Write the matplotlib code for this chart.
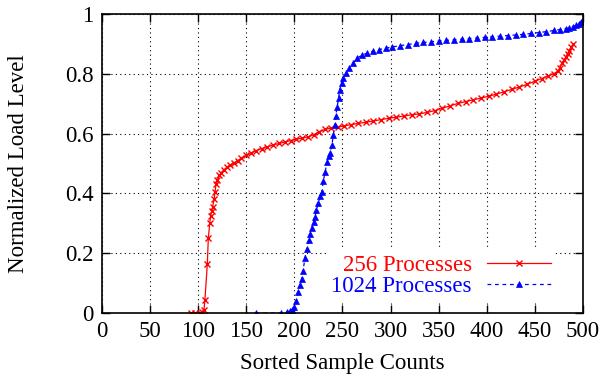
import matplotlib.pyplot as plt

plt.rcParams['font.family'] = ['Liberation Serif', 'DejaVu Serif']

# 256 processes (red, x markers)
x256 = [92, 97, 102, 104, 106, 107, 109.5, 110.5, 112, 113, 114, 115, 116.5, 117.5,
        118.5, 120, 122, 124, 127, 130, 133, 137, 141, 145, 150, 155, 160, 166, 172,
        178, 184, 190, 196, 202, 208, 214, 220, 226, 232, 238, 245, 252, 259, 266,
        274, 282, 290, 298, 306, 314, 322, 330, 338, 346, 354, 362, 370, 378, 386,
        394, 402, 410, 418, 426, 434, 442, 450, 457, 464, 470, 474, 476, 478, 480,
        482, 484, 486, 488, 490]
y256 = [0.0, 0.0, 0.0, 0.005, 0.01, 0.045, 0.165, 0.25, 0.30, 0.325, 0.34, 0.355, 0.38,
        0.405, 0.43, 0.445, 0.46, 0.47, 0.48, 0.488, 0.495, 0.502, 0.51, 0.518, 0.527,
        0.535, 0.543, 0.55, 0.556, 0.562, 0.567, 0.572, 0.577, 0.581, 0.585, 0.589,
        0.596, 0.607, 0.614, 0.619, 0.622, 0.626, 0.63, 0.634, 0.638, 0.642, 0.647,
        0.651, 0.655, 0.659, 0.663, 0.666, 0.671, 0.677, 0.685, 0.693, 0.701, 0.707,
        0.713, 0.719, 0.725, 0.732, 0.74, 0.748, 0.756, 0.765, 0.775, 0.784, 0.793,
        0.801, 0.809, 0.82, 0.835, 0.845, 0.855, 0.866, 0.876, 0.89, 0.899]

# 1024 processes (blue, triangles)
x1024 = [160, 186, 192, 195, 198, 200, 202, 204, 206, 207.5, 209, 211, 213, 215, 216.5,
         218, 220, 221.5, 223, 225, 227, 228.5, 230, 232, 234, 236, 237, 239, 240.5,
         242, 243, 244.5, 246, 247, 249, 251, 254, 257, 261, 265, 270, 276, 282, 288,
         295, 302, 310, 318, 326, 334, 342, 350, 358, 366, 374, 382, 390, 398, 406,
         414, 422, 430, 438, 446, 454, 462, 470, 476, 482, 486, 490, 493, 496, 498, 500]
y1024 = [0.0, 0.0, 0.003, 0.006, 0.01, 0.02, 0.04, 0.07, 0.095, 0.115, 0.14, 0.185,
         0.215, 0.245, 0.265, 0.285, 0.305, 0.322, 0.345, 0.367, 0.39, 0.405, 0.44,
         0.473, 0.505, 0.525, 0.535, 0.562, 0.595, 0.63, 0.66, 0.69, 0.72, 0.745, 0.77,
         0.785, 0.803, 0.818, 0.835, 0.852, 0.862, 0.87, 0.876, 0.881, 0.886, 0.89,
         0.894, 0.898, 0.902, 0.905, 0.907, 0.91, 0.912, 0.914, 0.916, 0.918, 0.92,
         0.922, 0.924, 0.926, 0.928, 0.93, 0.932, 0.935, 0.938, 0.941, 0.945, 0.948,
         0.951, 0.954, 0.958, 0.962, 0.968, 0.974, 0.978]

xticks = list(range(0, 501, 50))
yticks = [0, 0.2, 0.4, 0.6, 0.8, 1]
ytick_labels = ['0', '0.2', '0.4', '0.6', '0.8', '1']

fig = plt.figure(figsize=(6.11, 3.74), dpi=100)
ax = fig.add_axes([0.167, 0.163, 0.787, 0.7995])

ax.plot(x256, y256, color='red', lw=0.9, marker='x', ms=5, mew=1.0,
        label='256 Processes')
ax.plot(x1024, y1024, color='blue', lw=0.9, ls=(0, (3, 3)), marker='^', ms=5,
        mew=0.5, label='1024 Processes')

ax.set_xlim(0, 500)
ax.set_ylim(0, 1)
ax.set_xticks(xticks)
ax.set_yticks(yticks)
ax.set_yticklabels(ytick_labels)
ax.grid(True, color='black', ls=(0, (1, 3)), lw=0.8)
ax.set_axisbelow(True)
ax.tick_params(direction='in', length=6, width=1, top=True, right=True,
               labelsize=16.5, pad=6)
for s in ax.spines.values():
    s.set_linewidth(1.2)

ax.set_xlabel('Sorted Sample Counts', fontsize=16.5, labelpad=8)
ax.set_ylabel('Normalized Load Level', fontsize=16.5, labelpad=26)

leg = ax.legend(loc='center right', bbox_to_anchor=(0.943, 0.124), markerfirst=False,
                fontsize=16.5, frameon=True, fancybox=False, edgecolor='none',
                facecolor='white', framealpha=1, borderpad=0.2, borderaxespad=0,
                handlelength=2.8, handletextpad=0.65, labelspacing=0.0,
                alignment='right')
for t, c in zip(leg.get_texts(), ['red', 'blue']):
    t.set_color(c)

fig.savefig('out.png', dpi=100)
